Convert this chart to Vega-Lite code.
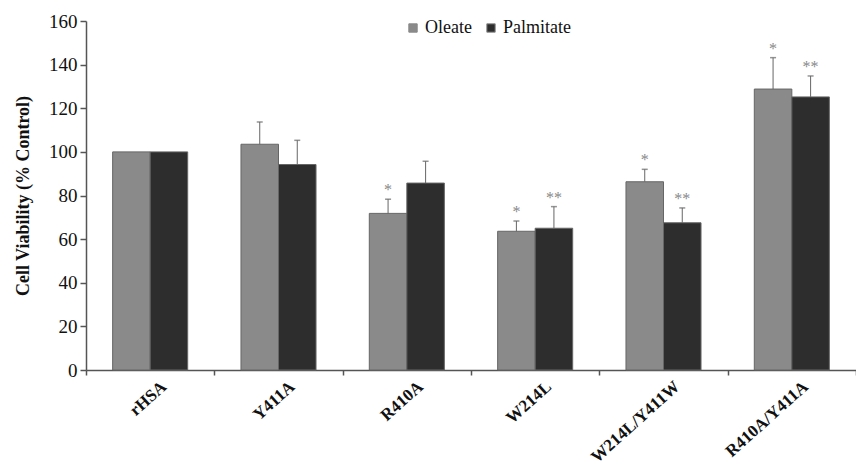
{
  "$schema": "https://vega.github.io/schema/vega-lite/v6.json",
  "width": 770,
  "height": 349,
  "autosize": "none",
  "padding": {"left": 86, "top": 21, "right": 0, "bottom": 97},
  "background": "white",
  "config": {"view": {"stroke": null}, "font": "Liberation Serif"},
  "data": {"values": [
    {"group": "rHSA", "acid": "Oleate", "value": 100, "err": null, "star": ""},
    {"group": "rHSA", "acid": "Palmitate", "value": 100, "err": null, "star": ""},
    {"group": "Y411A", "acid": "Oleate", "value": 103.5, "err": 113.7, "star": ""},
    {"group": "Y411A", "acid": "Palmitate", "value": 94.2, "err": 105.3, "star": ""},
    {"group": "R410A", "acid": "Oleate", "value": 71.8, "err": 78.3, "star": "*"},
    {"group": "R410A", "acid": "Palmitate", "value": 85.7, "err": 95.7, "star": ""},
    {"group": "W214L", "acid": "Oleate", "value": 63.6, "err": 68.3, "star": "*"},
    {"group": "W214L", "acid": "Palmitate", "value": 65, "err": 74.9, "star": "**"},
    {"group": "W214L/Y411W", "acid": "Oleate", "value": 86.3, "err": 92, "star": "*"},
    {"group": "W214L/Y411W", "acid": "Palmitate", "value": 67.5, "err": 74.3, "star": "**"},
    {"group": "R410A/Y411A", "acid": "Oleate", "value": 128.8, "err": 143.2, "star": "*"},
    {"group": "R410A/Y411A", "acid": "Palmitate", "value": 125.2, "err": 134.8, "star": "**"}
  ]},
  "encoding": {
    "x": {
      "field": "group", "type": "nominal", "sort": null,
      "scale": {"paddingInner": 0, "paddingOuter": 0},
      "axis": {
        "title": null, "labelAngle": -42, "labelFont": "Liberation Serif", "labelFontWeight": "bold",
        "labelFontSize": 17, "labelColor": "#111", "labelPadding": 3, "labelOffset": 8, "tickBand": "extent",
        "tickSize": 5, "tickColor": "#555", "domainColor": "#555", "domainWidth": 1.5, "tickWidth": 1.5
      }
    },
    "xOffset": {"field": "acid", "type": "nominal", "scale": {"paddingOuter": 0.71, "paddingInner": 0}}
  },
  "layer": [
    {
      "mark": {"type": "bar", "stroke": "#666", "strokeWidth": 1},
      "encoding": {
        "y": {
          "field": "value", "type": "quantitative",
          "scale": {"domain": [0, 160]},
          "axis": {
            "title": "Cell Viability (% Control)", "titleFont": "Liberation Serif", "titleFontWeight": "bold",
            "titleFontSize": 18, "titleColor": "#111", "titlePadding": 16,
            "values": [0, 20, 40, 60, 80, 100, 120, 140, 160], "grid": false,
            "labelFont": "Liberation Serif", "labelFontSize": 19, "labelColor": "#111", "labelPadding": 3,
            "tickSize": 6, "tickColor": "#555", "domainColor": "#555", "domainWidth": 1.5, "tickWidth": 1.5
          }
        },
        "color": {
          "field": "acid", "type": "nominal",
          "scale": {"domain": ["Oleate", "Palmitate"], "range": ["#8a8a8a", "#2d2d2d"]},
          "legend": {
            "title": null, "orient": "none", "legendX": 318, "legendY": -2, "direction": "horizontal",
            "symbolType": "square", "symbolSize": 70, "symbolStrokeColor": "#888", "symbolStrokeWidth": 1,
            "labelFont": "Liberation Serif", "labelFontSize": 18, "labelColor": "#111", "labelOffset": 3,
            "columnPadding": 10
          }
        }
      }
    },
    {
      "mark": {"type": "rule", "color": "#666", "strokeWidth": 1},
      "encoding": {
        "y": {"field": "value", "type": "quantitative"},
        "y2": {"field": "err"}
      }
    },
    {
      "mark": {"type": "tick", "color": "#666", "orient": "horizontal", "size": 6, "thickness": 1.5},
      "encoding": {"y": {"field": "err", "type": "quantitative"}}
    },
    {
      "mark": {"type": "text", "color": "#888", "fontSize": 16, "baseline": "bottom", "dy": -1, "font": "Liberation Serif"},
      "encoding": {
        "y": {"field": "err", "type": "quantitative"},
        "text": {"field": "star"}
      }
    }
  ]
}
